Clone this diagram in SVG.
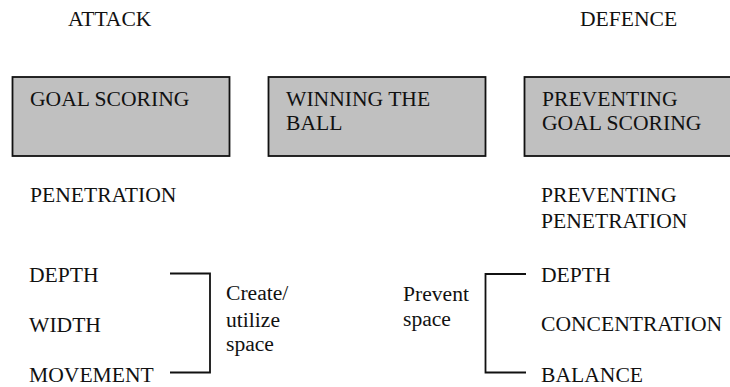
<svg xmlns="http://www.w3.org/2000/svg" width="730" height="387" viewBox="0 0 730 387">
  <style>
    text { font-family: 'Liberation Serif', 'Times New Roman', Times, 'DejaVu Serif', serif; font-size: 21.6px; fill: #111; }
    .box { fill: #c0c0c0; stroke: #111; stroke-width: 1.8; }
    .br { fill: none; stroke: #111; stroke-width: 1.8; }
  </style>
  <rect width="730" height="387" fill="#fff"/>

  <g id="heading-attack"><text x="68" y="26" font-family="Liberation Serif, serif">ATTACK</text></g>
  <g id="heading-defence"><text x="580" y="26">DEFENCE</text></g>

  <g id="goal-scoring">
    <rect class="box" x="12.5" y="77" width="217" height="79"/>
    <text x="30" y="106">GOAL SCORING</text>
  </g>
  <g id="winning-ball">
    <rect class="box" x="268.5" y="77" width="217" height="79"/>
    <text x="286" y="106">WINNING THE</text>
    <text x="286" y="130">BALL</text>
  </g>
  <g id="preventing-goal-scoring">
    <rect class="box" x="524.5" y="77" width="220" height="79"/>
    <text x="542" y="106">PREVENTING</text>
    <text x="542" y="130">GOAL SCORING</text>
  </g>

  <g id="penetration"><text x="30" y="202">PENETRATION</text></g>
  <g id="preventing-penetration">
    <text x="541" y="202">PREVENTING</text>
    <text x="541" y="228">PENETRATION</text>
  </g>

  <g id="attack-principles">
    <text x="29" y="282">DEPTH</text>
    <text x="29" y="332">WIDTH</text>
    <text x="29" y="382">MOVEMENT</text>
  </g>
  <g id="defence-principles">
    <text x="541" y="282">DEPTH</text>
    <text x="541" y="331">CONCENTRATION</text>
    <text x="541" y="382">BALANCE</text>
  </g>

  <g id="create-space">
    <text x="226" y="300">Create/</text>
    <text x="226" y="327">utilize</text>
    <text x="226" y="351">space</text>
  </g>
  <g id="prevent-space">
    <text x="403" y="301">Prevent</text>
    <text x="403" y="326">space</text>
  </g>

  <g id="connectors">
    <path class="br" d="M170 273.5 H210 V372.5 H170"/>
    <path class="br" d="M526 274 H485.5 V372.5 H526"/>
  </g>
</svg>
